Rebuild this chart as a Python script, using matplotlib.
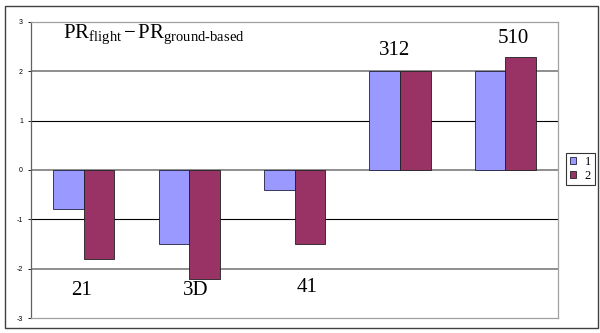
import matplotlib.pyplot as plt
import numpy as np
from matplotlib.patches import Rectangle

plt.rcParams['mathtext.fontset'] = 'custom'
plt.rcParams['mathtext.rm'] = 'Liberation Serif'
plt.rcParams['mathtext.it'] = 'Liberation Serif:italic'

# samples and the two series
groups = ['21', '3D', '41', '312', '510']
series1 = [-0.8, -1.5, -0.4, 2.0, 2.0]
series2 = [-1.8, -2.2, -1.5, 2.0, 2.3]
label_dx = [-0.02, 0.06, 0.12, -0.05, 0.08]
label_y = [-2.45, -2.45, -2.39, 2.43, 2.66]
yticks = [-3, -2, -1, 0, 1, 2, 3]

fig = plt.figure(figsize=(6, 3.33), dpi=100)
ax = fig.add_axes([0.052, 0.045, 0.878, 0.889])

x = np.arange(len(groups))
w = 0.29
ax.bar(x - w / 2, series1, w, color='#9999FF', edgecolor='#202040', linewidth=0.6, label='1', zorder=3)
ax.bar(x + w / 2, series2, w, color='#993366', edgecolor='#202020', linewidth=0.6, label='2', zorder=3)

ax.set_xlim(-0.5, len(groups) - 0.5)
ax.set_ylim(-3, 3)
ax.set_xticks([])
ax.set_yticks(yticks)
ax.set_yticklabels([str(t) for t in yticks], fontsize=5, family='Liberation Sans')
ax.tick_params(axis='y', length=2, width=0.6, pad=4)

# horizontal grid
for t in yticks[1:-1]:
    ax.axhline(t, color='black' if t % 2 else '#707070', linewidth=0.8 if t % 2 else 1.1, zorder=1)

for s in ['top', 'right', 'bottom']:
    ax.spines[s].set_color('#a0a0a0')
    ax.spines[s].set_linewidth(0.9)
ax.spines['left'].set_color('#606060')
ax.spines['left'].set_linewidth(0.9)

for xi, g, dx, ly in zip(x, groups, label_dx, label_y):
    ax.text(xi + dx, ly, g, ha='center', va='center', fontsize=15, family='Liberation Serif')

title = r'$\mathrm{PR}_{\mathrm{flight}}\,\mathrm{-\,PR}_{\mathrm{ground' + '\u2010' + r'based}}$'
ax.text(-0.2, 2.75, title, fontsize=15, ha='left', va='center')

leg = fig.legend(loc='upper left', bbox_to_anchor=(0.943, 0.542),
                 prop={'family': 'Liberation Serif', 'size': 9},
                 frameon=True, fancybox=False, edgecolor='black', handlelength=0.5,
                 handleheight=0.5, handletextpad=0.7, borderpad=0.3, labelspacing=0.1,
                 borderaxespad=0)
leg.get_frame().set_linewidth(0.8)

# outer chart border
fig.patches.append(Rectangle((0.009, 0.015), 0.987, 0.968, transform=fig.transFigure,
                             fill=False, edgecolor='#404040', linewidth=1.0))

fig.savefig('out.png', dpi=100)
